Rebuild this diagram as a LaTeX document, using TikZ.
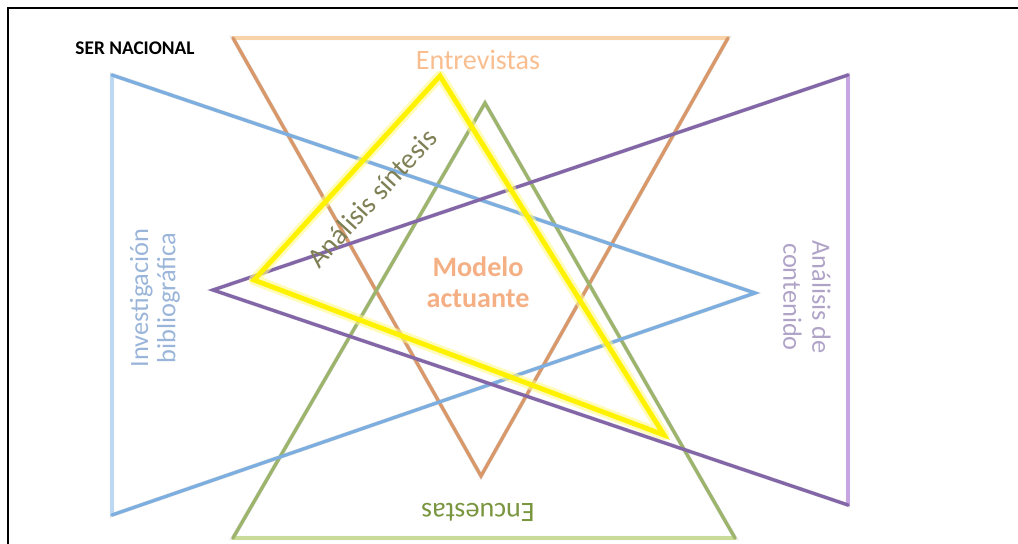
\documentclass[tikz,border=0pt]{standalone}
\usepackage{fontspec}
\setmainfont{Carlito}
\usetikzlibrary{calc}

\definecolor{peach}{HTML}{F9BE8F}
\definecolor{peachbold}{HTML}{F4B084}
\definecolor{orangeside}{HTML}{D9986A}
\definecolor{orangebase}{HTML}{F8D3A8}
\definecolor{blueside}{HTML}{7DAEE0}
\definecolor{bluebase}{HTML}{BCD8F2}
\definecolor{purpleside}{HTML}{8266A8}
\definecolor{purplebase}{HTML}{C6A6E0}
\definecolor{greenside}{HTML}{9DB46C}
\definecolor{greenbase}{HTML}{C9DB98}
\definecolor{bluetext}{HTML}{9AB5D9}
\definecolor{lavtext}{HTML}{B0A3C8}
\definecolor{olivetext}{HTML}{7F7F55}
\definecolor{greentext}{HTML}{7A9640}

\begin{document}
\begin{tikzpicture}[x=0.02cm,y=-0.02cm,
    side/.style={line width=1.9pt,line join=miter,line cap=round},
    shade/.style={line width=2.4pt,black!10,line join=miter,line cap=round,shift={(1.5,2)}},
    label/.style={inner sep=0pt,font=\fontsize{16}{18}\selectfont}]
    \useasboundingbox (0,0) rectangle (1018,544);
    \draw[line width=1.4pt] (8,544)--(8,8)--(1018,8);
    % vertices
    \coordinate (ent1) at (233,38); \coordinate (ent2) at (728,38); \coordinate (ent3) at (481,476);
    \coordinate (inv1) at (112,75); \coordinate (inv2) at (112,515); \coordinate (inv3) at (755,293);
    \coordinate (con1) at (848,75); \coordinate (con2) at (848,505); \coordinate (con3) at (213,290);
    \coordinate (enc1) at (233,538); \coordinate (enc2) at (735,538); \coordinate (enc3) at (485,103);
    \coordinate (sin1) at (440,76); \coordinate (sin2) at (254,280); \coordinate (sin3) at (664,435);
    % soft shadows
    \foreach \t in {ent,enc,inv,con}
        \draw[shade] (\t1)--(\t2)--(\t3)--cycle;
    % triangles
    \draw[side,orangebase] (ent1)--(ent2);
    \draw[side,orangeside] (ent1)--(ent3)--(ent2);
    \draw[side,greenbase] (enc1)--(enc2);
    \draw[side,greenside] (enc1)--(enc3)--(enc2);
    \draw[side,bluebase] (inv1)--(inv2);
    \draw[side,blueside] (inv1)--(inv3)--(inv2);
    \draw[side,purplebase] (con1)--(con2);
    \draw[side,purpleside] (con1)--(con3)--(con2);
    \draw[line width=6pt,yellow!45,opacity=0.6,line join=round] (sin1)--(sin2)--(sin3)--cycle;
    \draw[line width=2.8pt,yellow,line join=miter] (sin1)--(sin2)--(sin3)--cycle;
    % texts
    \node[inner sep=0pt,font=\bfseries\fontsize{11}{13}\selectfont] (ser) at (135,48) {SER NACIONAL};
    \node[label,peach] (entrevistas) at (478,60) {Entrevistas};
    \node[label,bluetext,rotate=90,align=center,font=\fontsize{15}{15.5}\selectfont] (investigacion) at (155,298) {Investigación\\bibliográfica};
    \node[label,lavtext,rotate=-90,align=center,font=\fontsize{15}{16.5}\selectfont] (contenido) at (807,297) {Análisis de\\contenido};
    \node[label,peachbold,align=center,font=\bfseries\fontsize{16}{17.6}\selectfont] (modelo) at (478,282) {Modelo\\actuante};
    \node[label,olivetext,rotate=47.5] (sintesis) at (372,198) {Análisis síntesis};
    \node[label,greentext,rotate=180] (encuestas) at (478,512) {Encuestas};
\end{tikzpicture}
\end{document}
